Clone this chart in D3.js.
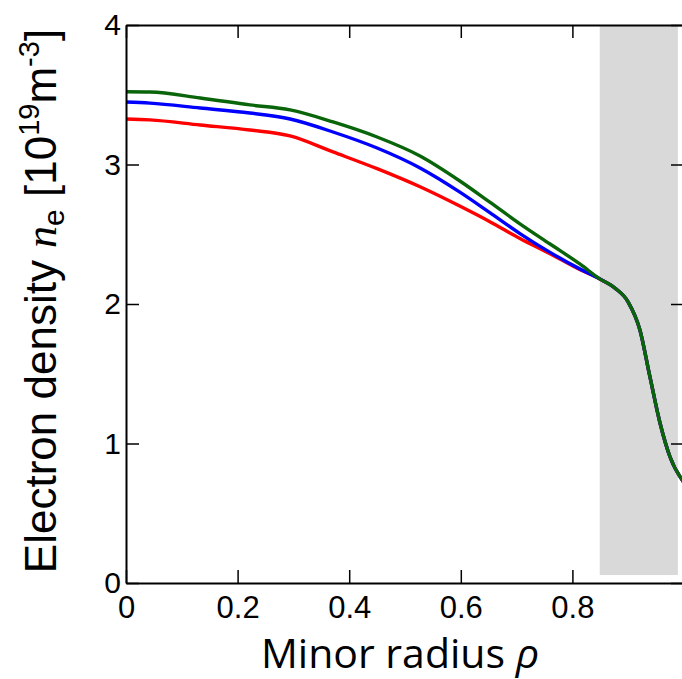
<!DOCTYPE html>
<html>
<head>
<meta charset="utf-8">
<script src="https://cdn.jsdelivr.net/npm/d3@7"></script>
<style>
  body { margin: 0; background: #fff; }
  svg { display: block; }
</style>
</head>
<body>
<svg id="chart" width="682" height="679"></svg>
<script>
// minor radius grid (shared by all three profiles)
const rho = [0, 0.043, 0.133, 0.222, 0.294, 0.371, 0.450, 0.527, 0.599, 0.652, 0.706, 0.760, 0.814,
             0.849, 0.876, 0.900, 0.921, 0.939, 0.957, 0.975, 1.0];
// electron density profiles [1e19 m^-3]
const neRed   = [3.326, 3.32, 3.283, 3.247, 3.205, 3.09, 2.97, 2.84, 2.70, 2.59, 2.47, 2.36, 2.245,
                 2.18, 2.115, 2.014, 1.814, 1.477, 1.147, 0.903, 0.72];
const neBlue  = [3.448, 3.44, 3.405, 3.369, 3.326, 3.233, 3.118, 2.975, 2.80, 2.655, 2.505, 2.37, 2.25,
                 2.18, 2.115, 2.014, 1.814, 1.477, 1.147, 0.903, 0.72];
const neGreen = [3.522, 3.52, 3.477, 3.427, 3.391, 3.305, 3.197, 3.061, 2.88, 2.73, 2.575, 2.43, 2.285,
                 2.18, 2.115, 2.014, 1.814, 1.477, 1.147, 0.903, 0.72];
const seriesColors = ["#ff0000", "#0000ff", "#0a640a"];
// shaded edge region
const shadeRho = [0.849, 0.989];
const shadeNe = [0.057, 4];

const xTicks = [0, 0.2, 0.4, 0.6, 0.8, 1];
const yTicks = [0, 1, 2, 3, 4];

const svg = d3.select("#chart");
const x = d3.scaleLinear().domain([0, 1]).range([126, 684]);
const y = d3.scaleLinear().domain([0, 4]).range([583, 25]);

// grey band
svg.append("rect")
  .attr("x", x(shadeRho[0]))
  .attr("y", y(shadeNe[1]))
  .attr("width", x(shadeRho[1]) - x(shadeRho[0]))
  .attr("height", y(shadeNe[0]) - y(shadeNe[1]))
  .attr("fill", "#d9d9d9");

// profiles
const line = d3.line()
  .x((d, i) => x(rho[i]))
  .y(d => y(d))
  .curve(d3.curveMonotoneX);

[neRed, neBlue, neGreen].forEach((s, k) => {
  svg.append("path")
    .datum(s)
    .attr("d", line)
    .attr("fill", "none")
    .attr("stroke", seriesColors[k])
    .attr("stroke-width", 3.4)
    .attr("stroke-linejoin", "round");
});

// axes, ticks pointing inwards on all sides
const fmt = d => d3.format("")(d);
const gB = svg.append("g").attr("transform", `translate(0,${y(0)})`)
  .call(d3.axisBottom(x).tickValues(xTicks).tickFormat(fmt).tickSize(-13).tickSizeOuter(0).tickPadding(13));
const gL = svg.append("g").attr("transform", `translate(${x(0)},0)`)
  .call(d3.axisLeft(y).tickValues(yTicks).tickFormat(fmt).tickSize(-13).tickSizeOuter(0).tickPadding(5));
const gT = svg.append("g").attr("transform", `translate(0,${y(4)})`)
  .call(d3.axisTop(x).tickValues(xTicks).tickFormat("").tickSize(-13).tickSizeOuter(0));
const gR = svg.append("g").attr("transform", `translate(${x(1)},0)`)
  .call(d3.axisRight(y).tickValues(yTicks).tickFormat("").tickSize(-13).tickSizeOuter(0));

[gB, gL, gT, gR].forEach(g => {
  g.select(".domain").attr("stroke", "#000").attr("stroke-width", 2);
  g.selectAll(".tick line").attr("stroke", "#000").attr("stroke-width", 1.5);
  g.selectAll("text")
    .attr("fill", "#000")
    .style("font-family", "'Liberation Sans', Arial, sans-serif")
    .style("font-size", "30px");
});
gB.selectAll("text").style("font-size", "31px");
// the "1" label sits on the clipped right edge, only a sliver shows
gB.selectAll(".tick").filter(d => d === 1).select("text").attr("dx", 5);

// x label
const xl = svg.append("text")
  .attr("x", 400).attr("y", 668)
  .attr("text-anchor", "middle")
  .style("font-family", "'Open Sans', sans-serif")
  .style("font-size", "41px");
xl.append("tspan").text("Minor radius ");
xl.append("tspan").style("font-style", "italic").text("ρ");

// y label
const yl = svg.append("text")
  .attr("transform", "translate(56,301) rotate(-90)")
  .attr("text-anchor", "middle")
  .style("font-family", "'Liberation Sans', Arial, sans-serif")
  .style("font-size", "44px");
yl.append("tspan").text("Electron density ");
yl.append("tspan").style("font-family", "'Liberation Serif', serif").style("font-style", "italic").text("n");
yl.append("tspan").attr("dy", 8).style("font-size", "30px").text("e");
yl.append("tspan").attr("dy", -8).text(" [10");
yl.append("tspan").attr("dy", -17).style("font-size", "29px").text("19");
yl.append("tspan").attr("dy", 17).text("m");
yl.append("tspan").attr("dy", -17).style("font-size", "29px").text("-3");
yl.append("tspan").attr("dy", 17).text("]");
</script>
</body>
</html>
